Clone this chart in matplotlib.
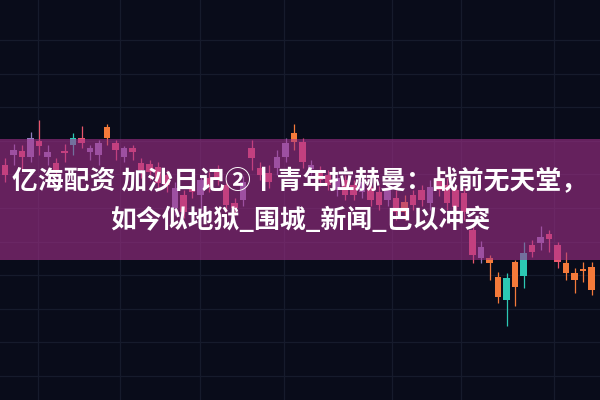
import matplotlib
matplotlib.use("Agg")
import matplotlib.pyplot as plt
import numpy as np

plt.rcParams['font.family'] = ['Noto Sans CJK SC', 'DejaVu Sans']

# candle data (price units), one entry per candle
opens  = [235, 245, 249, 243, 259, 243, 237, 249, 255, 262, 248, 245, 273, 257, 243, 252,
          237, 236, 233, 225, 192, 205, 212, 205, 222, 230, 215, 197, 200, 252, 232, 227,
          232, 243, 267, 258, 231, 228, 225, 210, 220, 215, 208, 212, 208, 200, 202, 198,
          205, 210, 197, 222, 215, 210, 207, 170, 142, 142, 123, 100, 138, 124, 155, 157,
          166, 155, 137, 127, 131, 133]
closes = [225, 250, 243, 262, 254, 248, 230, 247, 262, 257, 252, 257, 262, 250, 252, 248,
          230, 228, 217, 215, 212, 188, 208, 220, 214, 222, 195, 192, 218, 242, 225, 218,
          243, 257, 258, 238, 235, 220, 215, 222, 205, 205, 218, 200, 195, 210, 188, 188,
          195, 200, 213, 210, 197, 193, 188, 145, 153, 137, 103, 122, 113, 147, 148, 163,
          161, 138, 127, 120, 129, 110]
highs  = [242, 256, 255, 268, 280, 255, 242, 256, 267, 274, 255, 260, 276, 260, 254, 255,
          242, 240, 238, 230, 218, 210, 217, 225, 228, 235, 220, 202, 224, 260, 238, 235,
          250, 262, 276, 262, 240, 234, 230, 228, 225, 220, 223, 217, 214, 215, 210, 205,
          210, 215, 220, 228, 222, 215, 212, 175, 159, 145, 128, 127, 140, 158, 160, 174,
          170, 158, 148, 132, 138, 138]
lows   = [218, 235, 230, 238, 245, 235, 224, 238, 245, 252, 240, 235, 255, 240, 238, 240,
          222, 220, 210, 208, 185, 182, 202, 190, 208, 215, 188, 185, 194, 230, 220, 212,
          225, 238, 250, 232, 225, 214, 210, 204, 200, 200, 202, 194, 190, 194, 180, 180,
          190, 194, 190, 204, 190, 185, 180, 137, 137, 120, 97, 74, 94, 112, 143, 150,
          148, 132, 120, 107, 118, 105]
kinds = list("rprprprrtrpporpr" "rrrrprrprrrrprrr" "pporprrprrprrpro"
             "rrprrrrrpoototrp" "rroooo")

title_1 = "亿海配资 加沙日记②丨青年拉赫曼：战前无天堂，"
title_2 = "如今似地狱_围城_新闻_巴以冲突"

palette = {'r': '#e8566c', 'p': '#8f7dbd', 'o': '#f47a3a', 't': '#2cc9b4'}
bg = '#090c1a'

fig = plt.figure(figsize=(6, 4), dpi=100)
fig.patch.set_facecolor(bg)
ax = fig.add_axes([0, 0, 1, 1])
ax.set_facecolor(bg)

idx = np.arange(len(opens))
for i in idx:
    c = palette[kinds[i]]
    lo, hi = min(opens[i], closes[i]), max(opens[i], closes[i])
    ax.vlines(i, lows[i], highs[i], color=c, lw=0.9, zorder=2)
    ax.bar(i, max(hi - lo, 1.5), bottom=lo, width=0.74, color=c, zorder=3)

ax.set_xlim(-5 / 8.5, 595 / 8.5)
ax.set_ylim(0, 400)

# faint chart grid
ax.set_xticks([(x - 5) / 8.5 for x in [38, 120, 200, 284, 392, 461, 554]])
ax.set_yticks(np.arange(24, 361, 33.6))
ax.grid(True, color='#161b2c', lw=0.9, zorder=0)
ax.tick_params(length=0, labelbottom=False, labelleft=False)
for s in ax.spines.values():
    s.set_visible(False)

# purple title band
ax.axhspan(140, 261, color='#a8318e', alpha=0.58, lw=0, zorder=5)

fig.text(0.5, 1 - 182 / 400, title_1, color='white', fontsize=18.6, fontweight='bold',
         ha='center', va='center', zorder=10)
fig.text(0.5, 1 - 221 / 400, title_2, color='white', fontsize=18.6, fontweight='bold',
         ha='center', va='center', zorder=10)

fig.savefig('out.png', dpi=100, facecolor=bg)
